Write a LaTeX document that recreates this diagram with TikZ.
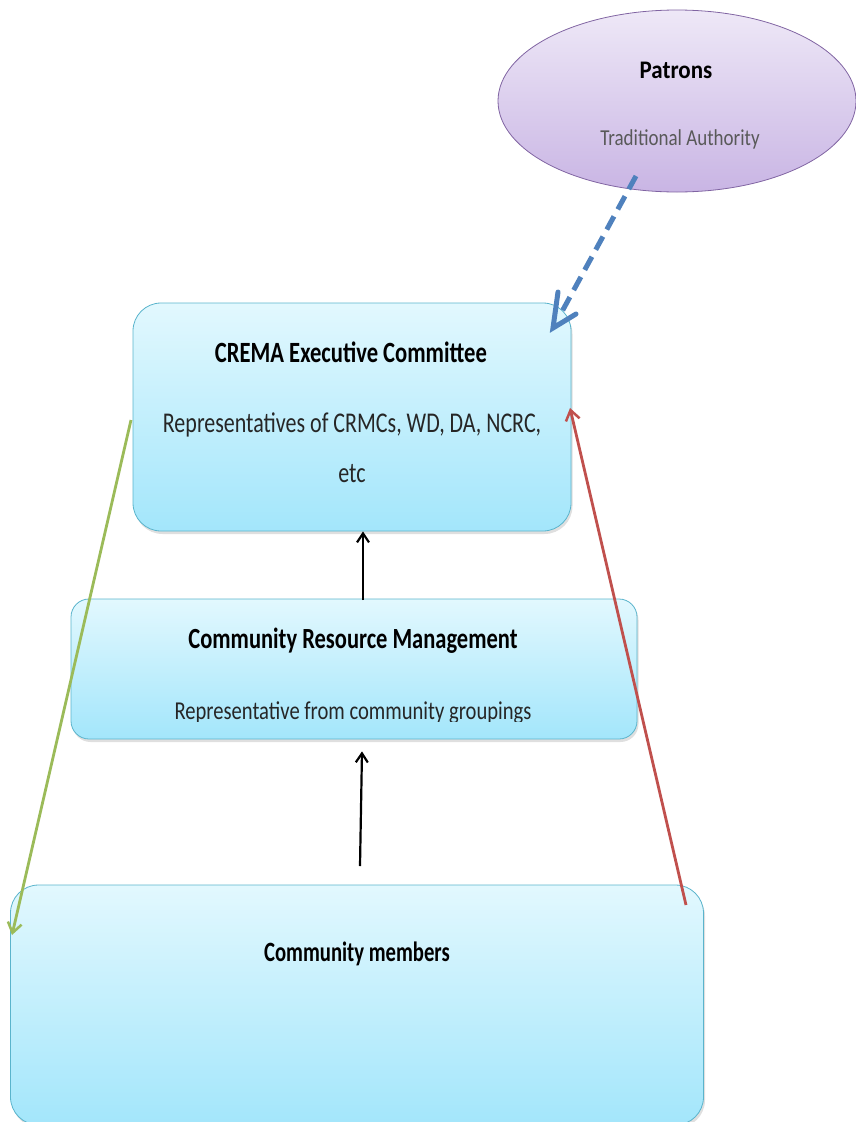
\documentclass[tikz,border=0pt]{standalone}
\usepackage{fontspec}
\setmainfont{Carlito}
\usetikzlibrary{shapes.geometric,arrows.meta,shadows,calc}
\definecolor{boxtop}{HTML}{E2F8FE}
\definecolor{boxbot}{HTML}{A3E6FB}
\definecolor{boxline}{HTML}{5AB4CC}
\definecolor{ellline}{HTML}{8064A2}
\definecolor{elltop}{HTML}{EEE8F7}
\definecolor{ellbot}{HTML}{C9B5E4}
\definecolor{grn}{HTML}{9BBB59}
\definecolor{redl}{HTML}{C0504D}
\definecolor{bluel}{HTML}{4F81BD}
\newcommand{\tall}[1]{\scalebox{1}[1.3]{#1}}
\tikzset{
  tierbox/.style={draw=boxline, line width=0.8pt, rounded corners=28pt, top color=boxtop, bottom color=boxbot, inner sep=0pt,
    drop shadow={opacity=0.25, shadow xshift=1.5pt, shadow yshift=-3pt}},
  patbox/.style={ellipse, draw=ellline, line width=0.8pt, top color=elltop, bottom color=ellbot, inner sep=0pt},
  ttl/.style={font=\fontsize{22.6}{26}\selectfont\bfseries, text=black, inner sep=0pt},
  sub/.style={font=\fontsize{22}{26}\selectfont, text=black!85, inner sep=0pt},
  upar/.style={-{Straight Barb[length=9pt,width=12pt,line width=2.2pt]}, line width=2.2pt, black},
}
\begin{document}
\begin{tikzpicture}[x=1pt,y=-1pt]
\useasboundingbox (0,0) rectangle (856,1122);
% patrons
\node[patbox, minimum width=358pt, minimum height=182pt] (pat) at (677,101) {};
\node[font=\fontsize{23}{26}\selectfont\bfseries, inner sep=0pt] (patt) at (676,70) {\scalebox{1}[1.1]{Patrons}};
\node[font=\fontsize{19}{22}\selectfont, text=black!65, inner sep=0pt] (pats) at (680,139) {\scalebox{1}[1.2]{Traditional Authority}};
% boxes
\node[tierbox, minimum width=438pt, minimum height=228pt] (crema) at (352,417) {};
\node[ttl] (cremat) at (351,352) {\tall{CREMA Executive Committee}};
\node[sub] (cremas) at (352,425) {\tall{Representatives of CRMCs,\ WD,\ DA,\ NCRC,}};
\node[sub] (cremae) at (352,474) {\tall{etc}};
\node[tierbox, rounded corners=18pt, minimum width=566pt, minimum height=140pt] (crm) at (354,669) {};
\node[ttl, font=\fontsize{22.5}{26}\selectfont\bfseries] (crmt) at (353,641) {\tall{Community Resource Management}};
\begin{scope}
\clip (71,599) rectangle (637,721);
\node[sub, font=\fontsize{20.6}{24}\selectfont] (crms) at (353,713) {\scalebox{1}[1.25]{Representative from community groupings}};
\end{scope}
\node[tierbox, rounded corners=28pt, minimum width=693pt, minimum height=240pt] (cm) at (357,1005) {};
\node[ttl, font=\fontsize{20.7}{24}\selectfont\bfseries] (cmt) at (357,954) {\scalebox{1}[1.35]{Community members}};
% connectors
\coordinate (c1) at (363,600);
\coordinate (c2) at (360,866);
\coordinate (g1) at (131,420);
\coordinate (g2) at (12,935);
\coordinate (r1) at (686,905);
\coordinate (r2) at (570,408);
\coordinate (b1) at (636,176);
\coordinate (b2) at (553,328);
\draw[upar] (c1) -- (crema.south -| c1);
\draw[upar] (c2) -- ($(crm.south -| c2)+(2,12)$);
\draw[-{Straight Barb[length=10pt,width=14pt,line width=2.5pt]}, line width=2.8pt, grn] (g1) -- (g2);
\draw[-{Straight Barb[length=10pt,width=14pt,line width=2.5pt]}, line width=2.8pt, redl] (r1) -- (r2);
\draw[line width=5pt, bluel, dash pattern=on 15pt off 8pt] (b1) -- ($(b2)!18pt!(b1)$);
\draw[bluel, line width=5pt, line cap=round, line join=miter] ($(b2)+(5,-36)$) -- (b2) -- ($(b2)+(23,-14)$);
\end{tikzpicture}
\end{document}
